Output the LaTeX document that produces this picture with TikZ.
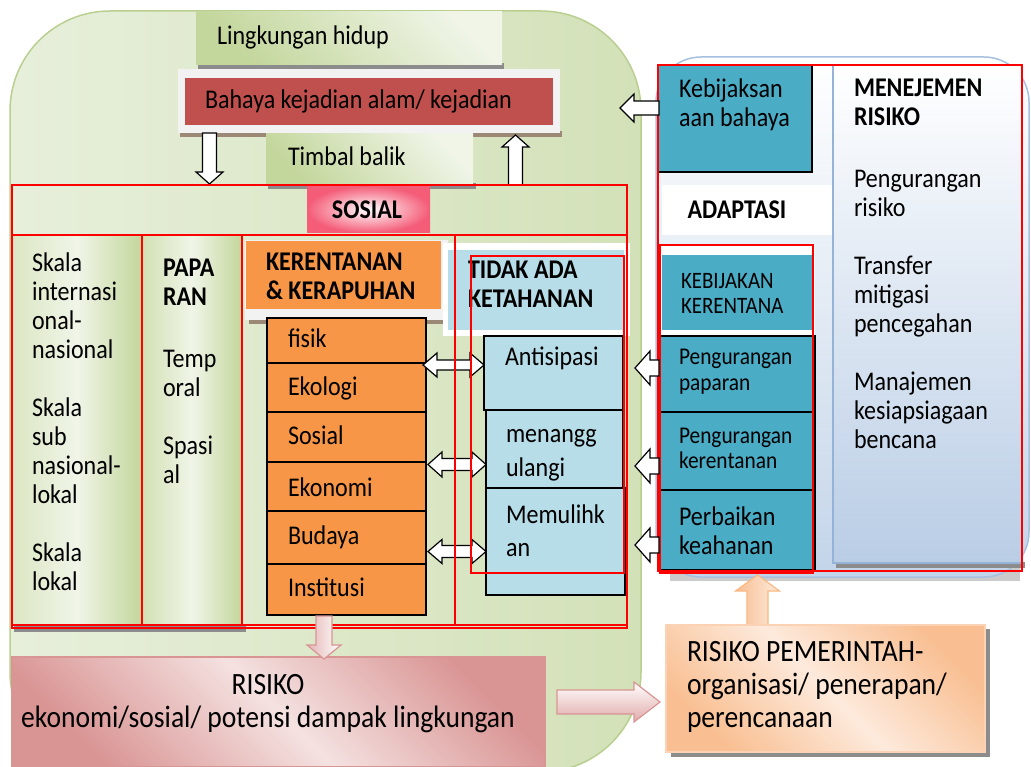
\documentclass[tikz,border=0pt]{standalone}
\usepackage{fontspec}
\setmainfont{Carlito}[FakeStretch=0.89]
\usetikzlibrary{fit,shadings}
\definecolor{gbg}{HTML}{E7EFDB}
\definecolor{gbgdark}{HTML}{D3E1B8}
\definecolor{gline}{HTML}{B9CF90}
\definecolor{glight}{HTML}{F0F5E8}
\definecolor{gdark}{HTML}{C3D69B}
\definecolor{cbahaya}{HTML}{C0504D}
\definecolor{cframe}{HTML}{F2F2F2}
\definecolor{corng}{HTML}{F79646}
\definecolor{clblue}{HTML}{B7DDE8}
\definecolor{cteal}{HTML}{4BACC6}
\definecolor{cpblue}{HTML}{B9CDE5}
\definecolor{cpbline}{HTML}{95B3D7}
\definecolor{crpline}{HTML}{A7C0E0}
\definecolor{cshadow}{HTML}{8C8C8C}
\definecolor{cpeach}{HTML}{F9BF92}
\definecolor{cpeachl}{HTML}{FDEADC}
\definecolor{cpink}{HTML}{D99594}
\definecolor{cpinkl}{HTML}{F4E2E1}
\definecolor{csospink}{HTML}{F45C78}
% block arrow: [style]{tail x,y}{rotation}{length}{shaft half}{head half}{head length}
\newcommand{\blockarrow}[7][]{%
  \path[#1, shift={(#2)}, rotate=#3] (0,-#5) -- ({#4-#7},-#5) -- ({#4-#7},-#6) -- (#4,0) -- ({#4-#7},#6) -- ({#4-#7},#5) -- (0,#5) -- cycle;}
% double block arrow: [style]{left tip x,y}{length}{shaft half}{head half}{head length}
\newcommand{\dblarrow}[6][]{%
  \path[#1, shift={(#2)}] (0,0) -- (#6,-#5) -- (#6,-#4) -- ({#3-#6},-#4) -- ({#3-#6},-#5) -- (#3,0) -- ({#3-#6},#5) -- ({#3-#6},#4) -- (#6,#4) -- (#6,#5) -- cycle;}
\begin{document}
\begin{tikzpicture}[x=1pt,y=-1pt,
  area/.style={inner sep=0pt, outer sep=0pt},
  txt/.style={anchor=base west, inner sep=0pt, outer sep=0pt, align=left, font=\fontsize{27}{29}\selectfont},
  btxt/.style={txt, font=\fontsize{27}{29}\selectfont\bfseries},
  redbox/.style={draw=red, line width=1.4pt},
  cellbox/.style={area, draw=black, line width=1.5pt},
  warrow/.style={draw=black, fill=white, line width=1.2pt, line join=miter},
  parrow/.style={draw=cpink, line width=1.2pt, left color=cpink!70, right color=white},
]
\useasboundingbox (0,0) rectangle (1031,767);

% right panel background
\fill[cshadow!45] (670,566) rectangle (1020,581);
\node[area, fit={(656,57)(1029,577)}, draw=crpline, line width=1.5pt, rounded corners=45pt, top color=white, bottom color=cpblue!85] (panel) {};

% big green background
\node[area, fit={(10,11)(641,772)}, draw=gline, line width=1.5pt, rounded corners=100pt, left color=gbg, right color=gbgdark] (green) {};

% Lingkungan hidup
\fill[cshadow] (198,63) rectangle (504,69);
\node[area, fit={(196,12)(502,65)}, top color=glight, bottom color=gdark, shading angle=-45] (lingk) {};
\node[txt] (lingkt) at (217,45) {Lingkungan hidup};

% Bahaya
\fill[cshadow!70!brown] (180,131) rectangle (562,137);
\node[area, fit={(178,69)(560,133)}, fill=cframe] (bframe) {};
\node[area, fit={(185,78)(553,125)}, fill=cbahaya] (bahaya) {};
\node[txt] (bahayat) at (205,109) {Bahaya kejadian alam/ kejadian};

% Timbal balik
\fill[cshadow] (268,183) rectangle (476,189);
\node[area, fit={(266,134)(473,185)}, top color=glight, bottom color=gdark, shading angle=-45] (timbal) {};
\node[txt] (timbalt) at (288,166) {Timbal balik};

% vertical arrows between Bahaya and SOSIAL
\blockarrow[warrow]{209.5,133}{270}{51}{7}{13.5}{12}
\blockarrow[warrow]{515.5,185}{90}{50}{7}{13.5}{12}

% columns
\fill[cshadow] (14,626) rectangle (246,632);
\node[area, fit={(12,235)(142,625)}, left color=gdark!60, right color=gdark, middle color=glight] (skala) {};
\node[area, fit={(142,235)(242,625)}, left color=gdark!75, right color=gdark, middle color=glight] (papar) {};
\node[txt] (skalat) at (32,590) {Skala\\internasi\\onal-\\nasional\\[29pt]Skala\\sub\\nasional-\\lokal\\[29pt]Skala\\lokal};
\node[btxt] (papart) at (163,306) {PAPA\\RAN};
\node[txt] (papart2) at (163,483) {Temp\\oral\\[29pt]Spasi\\al};

% SOSIAL
\node[area, fit={(307,186)(430,233)}, inner color=white, outer color=csospink] (sosial) {};
\node[font=\fontsize{27}{29}\selectfont\bfseries, inner sep=0pt] (sosialt) at (367,210) {SOSIAL};

% Kerentanan header
\fill[cshadow!70!brown] (249,244) rectangle (452,324);
\node[area, fit={(245,240)(448,320)}, fill=cframe] (kframe) {};
\node[area, fit={(246,241)(441,309)}, fill=corng] (kere) {};
\node[btxt] (keret) at (266,300) {KERENTANAN\\\& KERAPUHAN};

% orange cells
\foreach \nm/\ya/\yb/\bl/\tx in {fisik/318/363/348/fisik, ekologi/363/412/395/Ekologi, sosialc/412/462/444/Sosial, ekonomi/462/511/496/Ekonomi, budaya/511/564/544/Budaya, institusi/564/615/596/Institusi}{
  \node[cellbox, fit={(267,\ya)(426,\yb)}, fill=corng] (\nm) {};
  \node[txt] (\nm t) at (288,\bl) {\tx};
}

% Tidak ada ketahanan header
\node[area, fit={(443,243)(630,336)}, fill=white] (tframe) {};
\node[area, fit={(448,250)(624,330)}, fill=clblue] (tidak) {};
\node[btxt] (tidakt) at (468,308) {TIDAK ADA\\KETAHANAN};

% blue cells
\node[cellbox, fit={(484,336)(623,410)}, fill=clblue] (antis) {};
\node[txt] (antist) at (505,366) {Antisipasi};
\node[cellbox, fit={(486,410)(623,488)}, fill=clblue] (menang) {};
\node[txt, font=\fontsize{27}{34}\selectfont] (menangt) at (506,476) {menangg\\ulangi};
\node[cellbox, fit={(486,488)(625,595)}, fill=clblue] (memul) {};
\node[txt, font=\fontsize{27}{33}\selectfont] (memult) at (506,556) {Memulihk\\an};
\draw[black, line width=1.5pt] (471,573) -- (627,573);

% double arrows
\dblarrow[warrow]{423,365}{61}{5}{12}{14}
\dblarrow[warrow]{428,464.5}{58}{6}{12.5}{14}
\dblarrow[warrow]{428,551.5}{58}{6}{12}{14}

% red outlines left
\draw[redbox] (12,185) rectangle (627,628);
\draw[redbox] (12,235) rectangle (142,625);
\draw[redbox] (142,235) rectangle (242,625);
\draw[redbox] (242,235) rectangle (455,625);
\draw[redbox] (455,235) rectangle (627,625);
\draw[redbox] (471,256) rectangle (624,573);

% right panel content
\node[cellbox, fit={(658,65)(812,172)}, fill=cteal] (kebij) {};
\node[txt] (kebijt) at (679,127) {Kebijaksan\\aan bahaya};
\node[area, fit={(662,185)(832,235)}, fill=white] (adapt) {};
\node[font=\fontsize{27}{29}\selectfont\bfseries, inner sep=0pt] (adaptt) at (737,210) {ADAPTASI};
\fill[cshadow] (836,562) rectangle (1025,568);
\node[area, fit={(833,65)(1022,563)}, top color=white, bottom color=cpblue, draw=cpbline, line width=2pt] (menej) {};
\node[btxt] (menejt) at (854,126) {MENEJEMEN\\RISIKO};
\node[txt] (menejb) at (854,448) {Pengurangan\\risiko\\[29pt]Transfer\\mitigasi\\pencegahan\\[29pt]Manajemen\\kesiapsiagaan\\bencana};
\node[area, fit={(660,245)(815,335)}, fill=white] (kkframe) {};
\node[area, fit={(662,255)(812,330)}, fill=cteal] (kk) {};
\node[txt, font=\fontsize{23.5}{25}\selectfont] (kkt) at (681,314) {KEBIJAKAN\\KERENTANA};
\node[cellbox, fit={(658,336)(815,412)}, fill=cteal] (pp) {};
\node[txt, font=\fontsize{24}{26}\selectfont] (ppt) at (679,390) {Pengurangan\\paparan};
\node[cellbox, fit={(658,412)(815,490)}, fill=cteal] (pk) {};
\node[txt, font=\fontsize{24}{25}\selectfont] (pkt) at (679,468) {Pengurangan\\kerentanan};
\node[cellbox, fit={(658,490)(815,570)}, fill=cteal] (pb) {};
\node[txt] (pbt) at (679,554) {Perbaikan\\keahanan};
\draw[redbox] (658,65) rectangle (1022,571);
\draw[redbox] (660,245) rectangle (813,573);

% left arrows on right
\blockarrow[warrow]{659,108}{180}{39}{7}{14}{14}
\blockarrow[warrow]{659,368}{180}{24}{8}{17}{15}
\blockarrow[warrow]{659,466}{180}{24}{8}{17}{15}
\blockarrow[warrow]{659,545}{180}{24}{8}{17}{15}

% peach up arrow
\blockarrow[draw=cpeach!90!orange, line width=1.2pt, left color=cpeach, right color=cpeachl]{757.5,626}{90}{51}{10.5}{22}{16}

% RISIKO PEMERINTAH
\fill[cshadow] (671,629) rectangle (990,757);
\node[area, fit={(666,625)(985,752)}, top color=cpeach, bottom color=cpeach, middle color=cpeachl, shading angle=-45, draw=cpeach!70, line width=1.2pt] (rpem) {};
\node[txt, font=\fontsize{31}{33}\selectfont] (rpemt) at (687,727) {RISIKO PEMERINTAH-\\organisasi/ penerapan/\\perencanaan};

% RISIKO
\node[area, fit={(12,657)(545,767)}, top color=cpink, bottom color=cpink, middle color=cpinkl, shading angle=-45, draw=cpink, line width=1.2pt] (risiko) {};
\node[font=\fontsize{31}{33}\selectfont, align=center, anchor=base, inner sep=0pt] (risikot) at (268,727) {RISIKO\\ekonomi/sosial/ potensi dampak lingkungan};

% pink arrows
\blockarrow[parrow]{324,616}{270}{43}{8}{17}{14}
\blockarrow[draw=cpink, line width=1.2pt, top color=white, bottom color=cpink!80]{557,702}{0}{103}{12}{20}{26}
\end{tikzpicture}
\end{document}
